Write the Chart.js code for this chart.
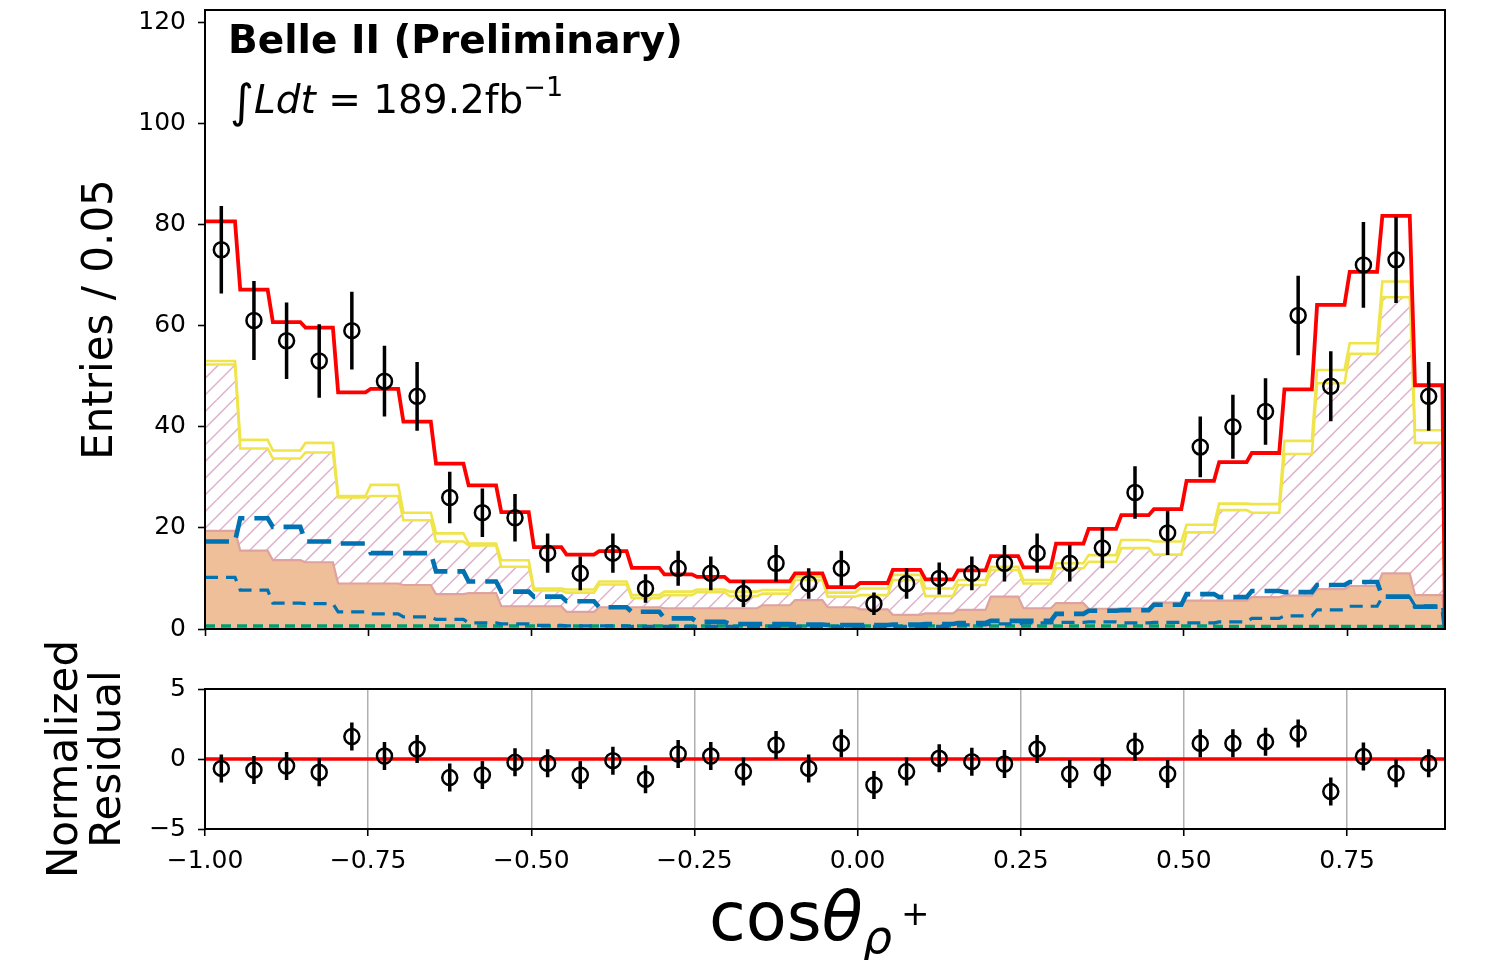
<!DOCTYPE html>
<html><head><meta charset="utf-8">
<script src="https://cdn.jsdelivr.net/npm/chart.js@4"></script>
<style>
html,body{margin:0;padding:0;background:#fff;}
#wrap{position:relative;width:1511px;height:960px;overflow:hidden;font-family:'DejaVu Sans',sans-serif;}
#c1{position:absolute;left:0;top:0;}
#c2{position:absolute;left:0;top:620px;}
.txt{position:absolute;white-space:nowrap;color:#000;font-family:'DejaVu Sans',sans-serif;line-height:1;}
.txt span,.txt i{line-height:0;}
</style></head>
<body><div id="wrap">
<canvas id="c1" width="1511" height="650"></canvas>
<canvas id="c2" width="1511" height="340"></canvas>
<div class="txt" style="left:228px;top:20px;font-size:39px;font-weight:bold;">Belle II (Preliminary)</div>
<div class="txt" style="left:230px;top:80px;font-size:39px;"><span style="font-size:46px;position:relative;top:4px;">∫</span><i>Ldt</i> = 189.2fb<span style="font-size:27px;position:relative;top:-17px;">−1</span></div>
<div class="txt" style="left:709px;top:884px;font-size:67px;">cos<i>θ</i><i style="font-size:46px;position:relative;top:13px;">ρ</i><span style="font-size:34px;position:relative;top:-15px;margin-left:9px;">+</span></div>
</div>
<script>
Chart.defaults.font.family = "'DejaVu Sans', sans-serif";
Chart.defaults.color = '#000';
Chart.defaults.animation = false;

// ---- data ----
const X_MIN = -1.0, X_MAX = 0.9, BIN_WIDTH = 0.05;
const BIN_CENTERS = [-0.975,-0.925,-0.875,-0.825,-0.775,-0.725,-0.675,-0.625,-0.575,-0.525,
  -0.475,-0.425,-0.375,-0.325,-0.275,-0.225,-0.175,-0.125,-0.075,-0.025,
  0.025,0.075,0.125,0.175,0.225,0.275,0.325,0.375,0.425,0.475,
  0.525,0.575,0.625,0.675,0.725,0.775,0.825,0.875];
const DATA_COUNTS = [75,61,57,53,59,49,46,26,23,22,15,11,15,8,12,11,7,13,9,12,
  5,9,10,11,13,15,13,16,27,19,36,40,43,62,48,72,73,46];
const DATA_ERRORS = [8.66,7.81,7.55,7.28,7.68,7.00,6.78,5.10,4.80,4.69,3.87,3.32,3.87,2.83,3.46,3.32,2.65,3.61,3.00,3.46,
  2.24,3.00,3.16,3.32,3.61,3.87,3.61,4.00,5.20,4.36,6.00,6.32,6.56,7.87,6.93,8.49,8.54,6.78];
const TOTAL_FIT = [80.6,67.1,60.7,59.6,46.8,47.5,41.0,32.7,28.4,23.1,16.2,14.7,15.4,12.1,10.8,10.3,9.4,9.4,11.0,8.3,
  9.1,11.7,9.8,11.6,14.4,12.2,16.9,19.8,22.5,23.7,29.3,33.0,34.8,47.4,64.1,70.6,81.7,48.2];
const YELLOW_TOP = [53.0,37.4,35.3,36.8,26.3,28.5,23.0,18.9,16.9,13.6,8.0,7.8,9.4,6.7,7.4,7.8,7.4,7.7,10.3,7.2,
  8.0,10.7,8.0,9.7,12.3,9.7,13.0,14.6,17.6,17.3,20.6,24.8,24.7,37.2,51.2,56.5,68.7,39.3];
const YELLOW_BOTTOM = [52.3,35.7,33.7,34.9,26.0,26.3,21.5,17.3,16.5,12.3,7.6,7.2,8.8,6.1,6.7,7.3,6.5,7.0,9.7,6.4,
  6.7,9.7,6.5,8.7,11.7,9.0,12.0,13.3,16.0,14.7,19.1,23.5,23.0,34.6,48.6,54.4,65.6,36.8];
const ORANGE_TOP = [19.4,15.5,13.6,13.2,9.0,9.0,8.7,6.9,7.1,4.5,4.5,3.4,4.3,4.3,4.1,4.1,4.1,4.7,5.7,4.3,
  3.9,2.8,3.1,3.8,6.4,4.1,5.1,4.0,4.1,5.2,5.6,5.6,6.3,6.6,7.9,8.5,11.0,6.7];
const BLUE_LONG = [17.3,21.9,20.2,17.3,16.9,15.0,15.0,11.4,9.4,7.4,6.4,5.5,4.3,3.4,2.1,1.4,1.0,1.0,0.9,0.8,
  0.8,0.9,1.0,1.2,1.6,1.6,3.0,3.6,3.7,4.8,6.9,6.3,7.5,7.3,8.7,9.3,6.4,4.4];
const BLUE_SHORT = [10.2,7.7,5.1,5.0,3.4,3.0,2.4,1.9,1.2,1.0,0.7,0.6,0.6,0.5,0.5,0.5,0.5,0.5,0.5,0.5,
  0.5,0.5,0.5,0.8,1.0,1.2,1.3,1.4,1.2,1.3,1.2,1.4,2.1,2.6,3.8,4.5,6.3,4.6];
const GREEN = [0.6,0.6,0.6,0.6,0.6,0.6,0.6,0.6,0.6,0.6,0.6,0.6,0.6,0.6,0.6,0.6,0.6,0.6,0.6,0.6,
  0.6,0.6,0.6,0.6,0.6,0.6,0.6,0.6,0.6,0.6,0.6,0.5,0.5,0.5,0.5,0.5,0.5,0.5];
const RESIDUALS = [-0.67,-0.79,-0.50,-0.95,1.60,0.21,0.71,-1.33,-1.14,-0.24,-0.31,-1.14,-0.12,-1.45,0.36,0.21,-0.90,1.00,-0.67,1.12,
  -1.86,-0.90,0.05,-0.19,-0.36,0.71,-1.07,-0.95,0.88,-1.07,1.12,1.12,1.24,1.83,-2.33,0.17,-1.02,-0.31];
const RESID_ERRORS = [1,1,1,1,1,1,1,1,1,1,1,1,1,1,1,1,1,1,1,1,1,1,1,1,1,1,1,1,1,1,1,1,1,1,1,1,1,1];
const X_TICK_STEP = 0.25, Y_TICK_STEP = 20, Y_MAX = 122.4, R_MIN = -5, R_MAX = 5, R_STEP = 5;

// ---- helpers ----
function histPoints(vals) {
  const pts = [], e = 0.004;
  vals.forEach((v, i) => {
    const lo = BIN_CENTERS[i] - BIN_WIDTH / 2, hi = BIN_CENTERS[i] + BIN_WIDTH / 2;
    pts.push({x: i === 0 ? lo : lo + e, y: v});
    pts.push({x: hi - e, y: v});
  });
  pts.push({x: X_MAX, y: 0});
  return pts;
}
const pointsOf = (vals) => vals.map((v, i) => ({x: BIN_CENTERS[i], y: v}));
const minus = (v, d) => (v < 0 ? '\u2212' : '') + Math.abs(v).toFixed(d);

function hatchPattern() {
  const c = document.createElement('canvas');
  const S = 100; c.width = S; c.height = S;
  const g = c.getContext('2d');
  g.strokeStyle = '#e0b2cc'; g.lineWidth = 1.5;
  const n = 6, step = S / n;
  for (let k = -n; k <= n; k++) {
    g.beginPath(); g.moveTo(k * step, S); g.lineTo(k * step + S, 0); g.stroke();
  }
  return g.createPattern(c, 'repeat');
}

const framePlugin = {
  id: 'frame',
  afterDraw(chart) {
    const {ctx, chartArea: a} = chart;
    ctx.save(); ctx.strokeStyle = '#000'; ctx.lineWidth = 2;
    ctx.strokeRect(a.left, a.top, a.right - a.left, a.bottom - a.top);
    ctx.restore();
  }
};
const errPlugin = {
  id: 'errbars',
  afterDatasetsDraw(chart) {
    const ctx = chart.ctx, ys = chart.scales.y;
    chart.data.datasets.forEach((d, i) => {
      if (!d.errors) return;
      const meta = chart.getDatasetMeta(i);
      ctx.save(); ctx.strokeStyle = '#000'; ctx.lineWidth = 3.5;
      ctx.beginPath();
      meta.data.forEach((pt, j) => {
        const v = d.data[j].y, e = d.errors[j];
        ctx.moveTo(pt.x, ys.getPixelForValue(v - e));
        ctx.lineTo(pt.x, ys.getPixelForValue(v + e));
      });
      ctx.stroke(); ctx.restore();
    });
  }
};

const lineDs = (vals, color, width, dash, extra) => Object.assign({
  data: histPoints(vals), borderColor: color, borderWidth: width, borderDash: dash || [],
  pointRadius: 0, fill: false, tension: 0, borderCapStyle: 'butt'
}, extra || {});

// ---- top chart ----
new Chart(document.getElementById('c1'), {
  type: 'line',
  data: {
    datasets: [
      {data: pointsOf(DATA_COUNTS), errors: DATA_ERRORS, showLine: false, pointRadius: 7.5,
       pointBorderWidth: 2.5, pointBorderColor: '#000', pointBackgroundColor: 'rgba(0,0,0,0)'},
      lineDs(TOTAL_FIT, '#ff0000', 3.8),
      lineDs(BLUE_LONG, '#0072b2', 4.6, [24, 10]),
      lineDs(BLUE_SHORT, '#0072b2', 3.2, [13, 8]),
      lineDs(GREEN, '#009e73', 3.6, [10, 6]),
      lineDs(ORANGE_TOP, '#dea2a0', 2.2, [], {fill: 'origin', backgroundColor: '#eebf99'}),
      lineDs(YELLOW_TOP, '#efe54a', 2.6),
      lineDs(YELLOW_BOTTOM, '#efe54a', 2.6, [], {fill: 5, backgroundColor: hatchPattern()})
    ]
  },
  options: {
    responsive: false, animation: false,
    layout: {padding: {left: 0, right: 66, top: 10, bottom: 0}},
    plugins: {legend: {display: false}, tooltip: {enabled: false}},
    scales: {
      x: {type: 'linear', min: X_MIN, max: X_MAX,
          ticks: {stepSize: X_TICK_STEP, includeBounds: false, display: false},
          grid: {drawOnChartArea: false, tickLength: 7, tickWidth: 1.6, tickColor: '#000'},
          border: {display: false},
          afterFit(s) { s.height = 21; s.paddingLeft = 0; s.paddingRight = 0; }},
      y: {min: 0, max: Y_MAX,
          ticks: {stepSize: Y_TICK_STEP, includeBounds: false, font: {size: 25}, padding: 12, color: '#000',
                  callback: v => minus(v, 0)},
          grid: {drawOnChartArea: false, tickLength: 7, tickWidth: 1.6, tickColor: '#000'},
          border: {display: false},
          title: {display: true, text: 'Entries / 0.05', font: {size: 42}, padding: {top: 76}, color: '#000'},
          afterFit(s) { s.width = 205; s.paddingTop = 0; s.paddingBottom = 0; }}
    }
  },
  plugins: [framePlugin, errPlugin]
});

// ---- residual chart ----
new Chart(document.getElementById('c2'), {
  type: 'line',
  data: {
    datasets: [
      {data: pointsOf(RESIDUALS), errors: RESID_ERRORS, showLine: false, pointRadius: 7.5,
       pointBorderWidth: 2.5, pointBorderColor: '#000', pointBackgroundColor: 'rgba(0,0,0,0)'},
      {data: [{x: X_MIN, y: 0}, {x: X_MAX, y: 0}], borderColor: '#ff0000', borderWidth: 3.5, pointRadius: 0, fill: false}
    ]
  },
  options: {
    responsive: false, animation: false,
    layout: {padding: {left: 0, right: 66, top: 69, bottom: 0}},
    plugins: {legend: {display: false}, tooltip: {enabled: false}},
    scales: {
      x: {type: 'linear', min: X_MIN, max: X_MAX,
          ticks: {stepSize: X_TICK_STEP, includeBounds: false, font: {size: 25}, padding: 10, color: '#000',
                  callback: v => minus(v, 2), maxRotation: 0, autoSkip: false},
          grid: {drawOnChartArea: true, color: '#b0b0b0', lineWidth: 1.5, tickLength: 7, tickWidth: 1.6, tickColor: '#000'},
          border: {display: false},
          afterFit(s) { s.height = 131; s.paddingLeft = 0; s.paddingRight = 0; }},
      y: {min: R_MIN, max: R_MAX,
          ticks: {stepSize: R_STEP, includeBounds: false, font: {size: 25}, padding: 12, color: '#000',
                  callback: v => minus(v, 0)},
          grid: {drawOnChartArea: false, tickLength: 7, tickWidth: 1.6, tickColor: '#000'},
          border: {display: false},
          title: {display: true, text: ['Normalized', 'Residual'], font: {size: 42, lineHeight: 1.02}, padding: {top: 45}, color: '#000'},
          afterFit(s) { s.width = 205; s.paddingTop = 0; s.paddingBottom = 0; }}
    }
  },
  plugins: [framePlugin, errPlugin]
});
</script>
</body></html>
